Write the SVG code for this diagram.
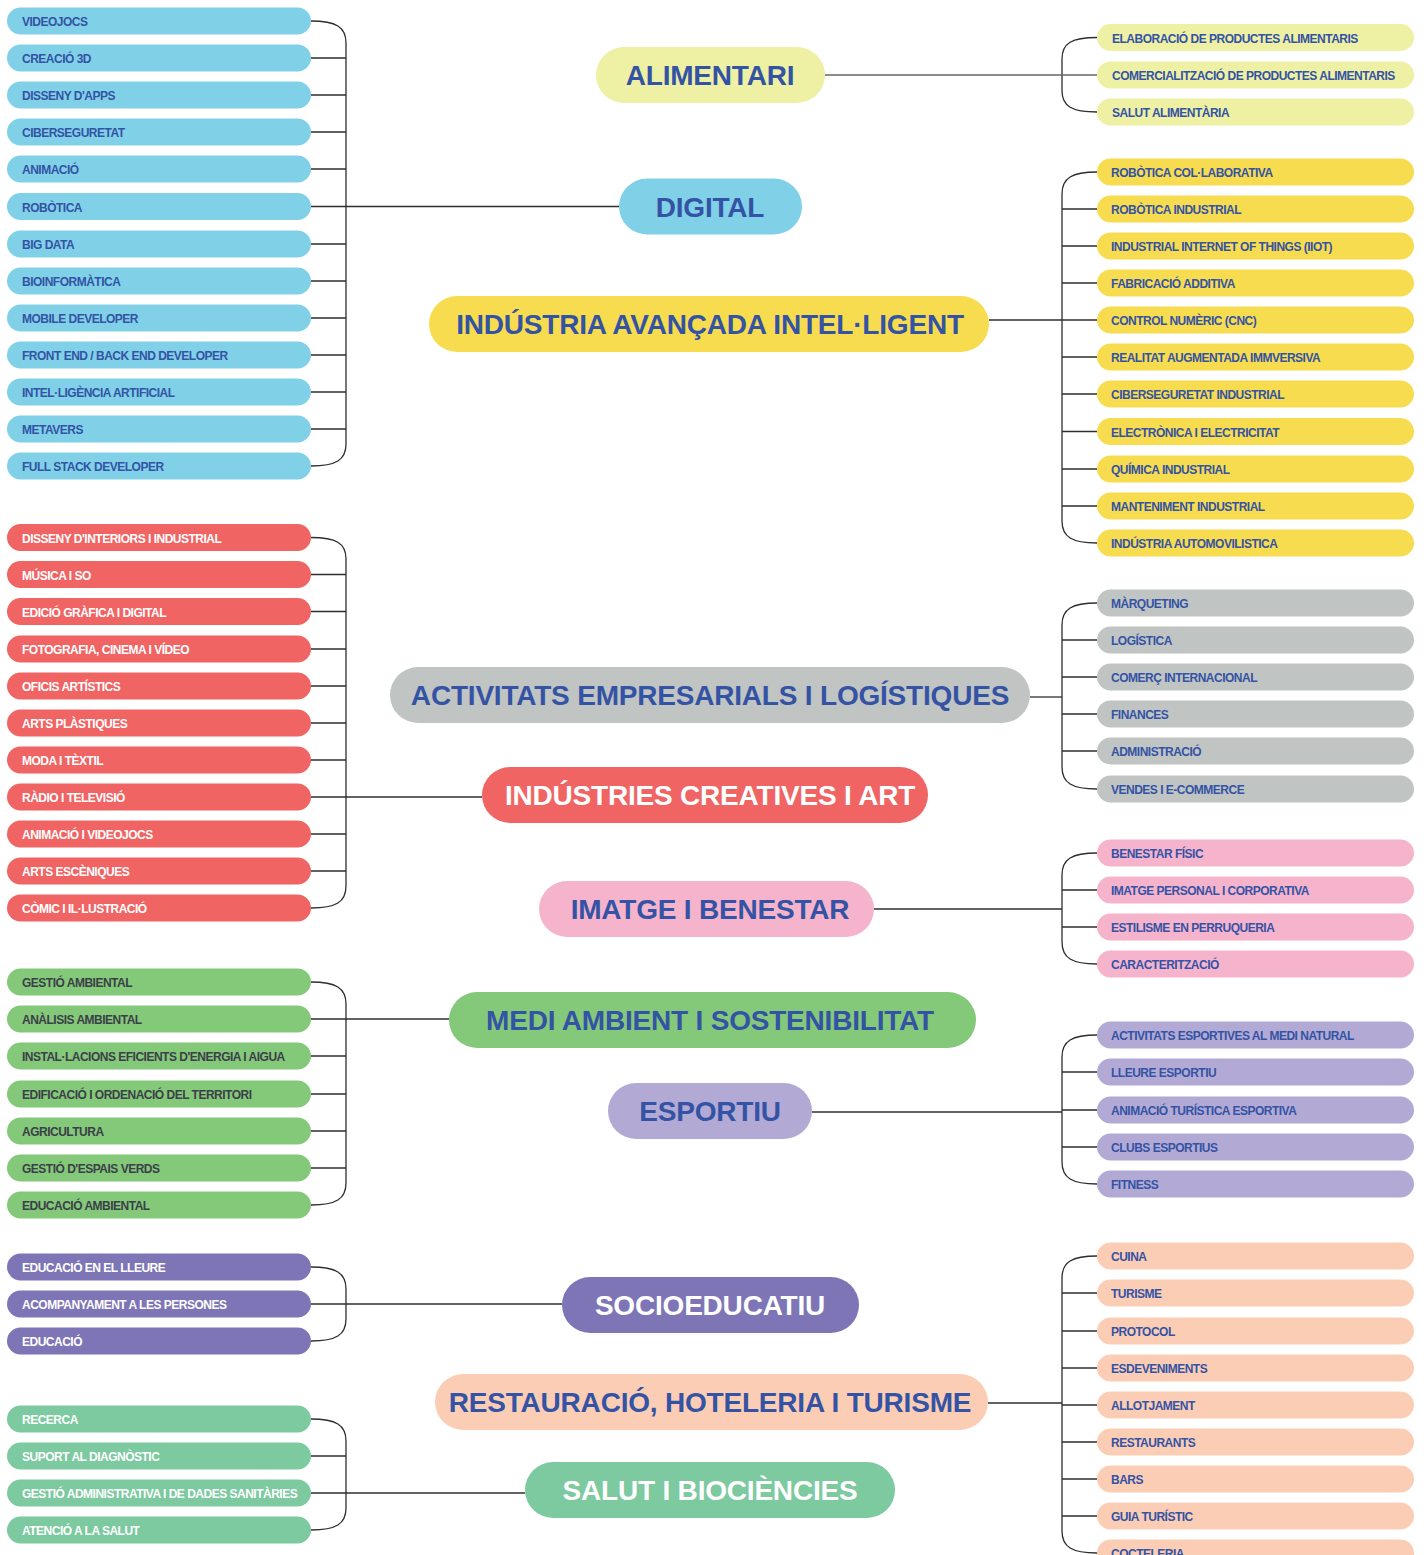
<svg xmlns="http://www.w3.org/2000/svg" width="1426" height="1555" viewBox="0 0 1426 1555">
<style>
text{font-family:"Liberation Sans",Arial,sans-serif;font-weight:700}
.leaf text{font-size:12px;letter-spacing:-0.5px;transform:translateY(0.8px)}
.hub text{font-size:28px;letter-spacing:-0.2px;text-anchor:middle}
.conn path{fill:none;stroke:#2e2e2e;stroke-width:1.3}
.dig rect{fill:#80d1e8}.dig text{fill:#3453a4}
.ali rect{fill:#eef0a4}.ali text{fill:#3453a4}
.ind rect{fill:#f7dc50}.ind text{fill:#3453a4}
.emp rect{fill:#c0c4c3}.emp text{fill:#3453a4}
.cre rect{fill:#f06464}.cre text{fill:#ffffff}
.ima rect{fill:#f5b4cc}.ima text{fill:#3453a4}
.med rect{fill:#84c87a}.med text{fill:#3453a4}
.med.leaf text{fill:#3b3f48}
.esp rect{fill:#b2aad4}.esp text{fill:#3453a4}
.soc rect{fill:#7e75b6}.soc text{fill:#ffffff}
.res rect{fill:#fbcdb5}.res text{fill:#3453a4}
.sal rect{fill:#7dc9a0}.sal text{fill:#ffffff}
</style>
<rect width="1426" height="1555" fill="#ffffff"/>
<g class="conn">
<path d="M311,21 C336,21 346,27 346,43 V444 C346,460 336,466 311,466"/>
<path d="M311,58H346M311,95H346M311,132H346M311,169H346M311,206.5H346M311,244H346M311,281H346M311,318H346M311,355H346M311,392H346M311,429H346"/>
<path d="M346,206.5H619"/>
<path d="M311,537.5 C336,537.5 346,543 346,559 V886 C346,902 336,908 311,908"/>
<path d="M311,574.5H346M311,611.5H346M311,649H346M311,686H346M311,723H346M311,760H346M311,797H346M311,834H346M311,871H346"/>
<path d="M346,797H482"/>
<path d="M311,982 C336,982 346,988 346,1004 V1183 C346,1199 336,1205 311,1205"/>
<path d="M311,1019H346M311,1056H346M311,1094H346M311,1131H346M311,1168H346"/>
<path d="M346,1019H449"/>
<path d="M311,1267 C336,1267 346,1273 346,1289 V1319 C346,1335 336,1341 311,1341"/>
<path d="M311,1304H562"/>
<path d="M311,1419 C336,1419 346,1425 346,1441 V1508 C346,1524 336,1530 311,1530"/>
<path d="M311,1456H346M311,1493H346"/>
<path d="M346,1493H525"/>
<path d="M1097,37.5 C1072,37.5 1062,43 1062,59 V90.5 C1062,106.5 1072,112 1097,112"/>
<path d="M825,75H1097" style="stroke:#666"/>
<path d="M1097,172 C1072,172 1062,178 1062,194 V521 C1062,537 1072,543 1097,543"/>
<path d="M1062,209H1097M1062,246H1097M1062,283H1097M1062,320H1097M1062,357H1097M1062,394H1097M1062,431.5H1097M1062,469H1097M1062,506H1097"/>
<path d="M989,320H1062"/>
<path d="M1097,603 C1072,603 1062,609 1062,625 V767 C1062,783 1072,789 1097,789"/>
<path d="M1062,640H1097M1062,677H1097M1062,714H1097M1062,751H1097"/>
<path d="M1030,697H1062"/>
<path d="M1097,853 C1072,853 1062,859 1062,875 V942 C1062,958 1072,964 1097,964"/>
<path d="M1062,890H1097M1062,927H1097"/>
<path d="M874,909H1062"/>
<path d="M1097,1035 C1072,1035 1062,1041 1062,1057 V1162 C1062,1178 1072,1184 1097,1184"/>
<path d="M1062,1072H1097M1062,1110H1097M1062,1147H1097"/>
<path d="M812,1112H1062"/>
<path d="M1097,1256 C1072,1256 1062,1262 1062,1278 V1531 C1062,1547 1072,1553 1097,1553"/>
<path d="M1062,1293H1097M1062,1331H1097M1062,1368H1097M1062,1405H1097M1062,1442H1097M1062,1479H1097M1062,1516H1097"/>
<path d="M988,1403H1062"/>
</g>

<!-- hubs -->
<g id="hub-alimentari" class="hub ali"><rect x="596" y="47" width="229" height="56" rx="28"/><text x="710" y="85">ALIMENTARI</text></g>
<g id="hub-digital" class="hub dig"><rect x="619" y="178.5" width="183" height="56" rx="28"/><text x="710" y="216.5">DIGITAL</text></g>
<g id="hub-industria" class="hub ind"><rect x="429" y="296" width="560" height="56" rx="28"/><text x="710" y="334">INDÚSTRIA AVANÇADA INTEL·LIGENT</text></g>
<g id="hub-empresarials" class="hub emp"><rect x="390" y="667" width="640" height="56" rx="28"/><text x="710" y="705">ACTIVITATS EMPRESARIALS I LOGÍSTIQUES</text></g>
<g id="hub-creatives" class="hub cre"><rect x="482" y="767" width="446" height="56" rx="28"/><text x="710" y="805">INDÚSTRIES CREATIVES I ART</text></g>
<g id="hub-imatge" class="hub ima"><rect x="539" y="881" width="335" height="56" rx="28"/><text x="710" y="919">IMATGE I BENESTAR</text></g>
<g id="hub-medi" class="hub med"><rect x="449" y="992" width="527" height="56" rx="28"/><text x="710" y="1030">MEDI AMBIENT I SOSTENIBILITAT</text></g>
<g id="hub-esportiu" class="hub esp"><rect x="608" y="1083" width="204" height="56" rx="28"/><text x="710" y="1121">ESPORTIU</text></g>
<g id="hub-socio" class="hub soc"><rect x="562" y="1277" width="297" height="56" rx="28"/><text x="710" y="1315">SOCIOEDUCATIU</text></g>
<g id="hub-restauracio" class="hub res"><rect x="435" y="1374" width="553" height="56" rx="28"/><text x="710" y="1412">RESTAURACIÓ, HOTELERIA I TURISME</text></g>
<g id="hub-salut" class="hub sal"><rect x="525" y="1462" width="370" height="56" rx="28"/><text x="710" y="1500">SALUT I BIOCIÈNCIES</text></g>

<!-- digital leaves -->
<g id="dig-1" class="leaf dig"><rect x="7" y="7.5" width="304" height="27" rx="13.5"/><text x="22" y="25.3">VIDEOJOCS</text></g>
<g id="dig-2" class="leaf dig"><rect x="7" y="44.5" width="304" height="27" rx="13.5"/><text x="22" y="62.3">CREACIÓ 3D</text></g>
<g id="dig-3" class="leaf dig"><rect x="7" y="81.5" width="304" height="27" rx="13.5"/><text x="22" y="99.3">DISSENY D'APPS</text></g>
<g id="dig-4" class="leaf dig"><rect x="7" y="118.5" width="304" height="27" rx="13.5"/><text x="22" y="136.3">CIBERSEGURETAT</text></g>
<g id="dig-5" class="leaf dig"><rect x="7" y="155.5" width="304" height="27" rx="13.5"/><text x="22" y="173.3">ANIMACIÓ</text></g>
<g id="dig-6" class="leaf dig"><rect x="7" y="193" width="304" height="27" rx="13.5"/><text x="22" y="210.8">ROBÒTICA</text></g>
<g id="dig-7" class="leaf dig"><rect x="7" y="230.5" width="304" height="27" rx="13.5"/><text x="22" y="248.3">BIG DATA</text></g>
<g id="dig-8" class="leaf dig"><rect x="7" y="267.5" width="304" height="27" rx="13.5"/><text x="22" y="285.3">BIOINFORMÀTICA</text></g>
<g id="dig-9" class="leaf dig"><rect x="7" y="304.5" width="304" height="27" rx="13.5"/><text x="22" y="322.3">MOBILE DEVELOPER</text></g>
<g id="dig-10" class="leaf dig"><rect x="7" y="341.5" width="304" height="27" rx="13.5"/><text x="22" y="359.3">FRONT END / BACK END DEVELOPER</text></g>
<g id="dig-11" class="leaf dig"><rect x="7" y="378.5" width="304" height="27" rx="13.5"/><text x="22" y="396.3">INTEL·LIGÈNCIA ARTIFICIAL</text></g>
<g id="dig-12" class="leaf dig"><rect x="7" y="415.5" width="304" height="27" rx="13.5"/><text x="22" y="433.3">METAVERS</text></g>
<g id="dig-13" class="leaf dig"><rect x="7" y="452.5" width="304" height="27" rx="13.5"/><text x="22" y="470.3">FULL STACK DEVELOPER</text></g>

<!-- creatives leaves -->
<g id="cre-1" class="leaf cre"><rect x="7" y="524" width="304" height="27" rx="13.5"/><text x="22" y="541.8">DISSENY D'INTERIORS I INDUSTRIAL</text></g>
<g id="cre-2" class="leaf cre"><rect x="7" y="561" width="304" height="27" rx="13.5"/><text x="22" y="578.8">MÚSICA I SO</text></g>
<g id="cre-3" class="leaf cre"><rect x="7" y="598" width="304" height="27" rx="13.5"/><text x="22" y="615.8">EDICIÓ GRÀFICA I DIGITAL</text></g>
<g id="cre-4" class="leaf cre"><rect x="7" y="635.5" width="304" height="27" rx="13.5"/><text x="22" y="653.3">FOTOGRAFIA, CINEMA I VÍDEO</text></g>
<g id="cre-5" class="leaf cre"><rect x="7" y="672.5" width="304" height="27" rx="13.5"/><text x="22" y="690.3">OFICIS ARTÍSTICS</text></g>
<g id="cre-6" class="leaf cre"><rect x="7" y="709.5" width="304" height="27" rx="13.5"/><text x="22" y="727.3">ARTS PLÀSTIQUES</text></g>
<g id="cre-7" class="leaf cre"><rect x="7" y="746.5" width="304" height="27" rx="13.5"/><text x="22" y="764.3">MODA I TÈXTIL</text></g>
<g id="cre-8" class="leaf cre"><rect x="7" y="783.5" width="304" height="27" rx="13.5"/><text x="22" y="801.3">RÀDIO I TELEVISIÓ</text></g>
<g id="cre-9" class="leaf cre"><rect x="7" y="820.5" width="304" height="27" rx="13.5"/><text x="22" y="838.3">ANIMACIÓ I VIDEOJOCS</text></g>
<g id="cre-10" class="leaf cre"><rect x="7" y="857.5" width="304" height="27" rx="13.5"/><text x="22" y="875.3">ARTS ESCÈNIQUES</text></g>
<g id="cre-11" class="leaf cre"><rect x="7" y="894.5" width="304" height="27" rx="13.5"/><text x="22" y="912.3">CÒMIC I IL·LUSTRACIÓ</text></g>

<!-- medi leaves -->
<g id="med-1" class="leaf med"><rect x="7" y="968.5" width="304" height="27" rx="13.5"/><text x="22" y="986.3">GESTIÓ AMBIENTAL</text></g>
<g id="med-2" class="leaf med"><rect x="7" y="1005.5" width="304" height="27" rx="13.5"/><text x="22" y="1023.3">ANÀLISIS AMBIENTAL</text></g>
<g id="med-3" class="leaf med"><rect x="7" y="1042.5" width="304" height="27" rx="13.5"/><text x="22" y="1060.3">INSTAL·LACIONS EFICIENTS D'ENERGIA I AIGUA</text></g>
<g id="med-4" class="leaf med"><rect x="7" y="1080.5" width="304" height="27" rx="13.5"/><text x="22" y="1098.3">EDIFICACIÓ I ORDENACIÓ DEL TERRITORI</text></g>
<g id="med-5" class="leaf med"><rect x="7" y="1117.5" width="304" height="27" rx="13.5"/><text x="22" y="1135.3">AGRICULTURA</text></g>
<g id="med-6" class="leaf med"><rect x="7" y="1154.5" width="304" height="27" rx="13.5"/><text x="22" y="1172.3">GESTIÓ D'ESPAIS VERDS</text></g>
<g id="med-7" class="leaf med"><rect x="7" y="1191.5" width="304" height="27" rx="13.5"/><text x="22" y="1209.3">EDUCACIÓ AMBIENTAL</text></g>

<!-- socio leaves -->
<g id="soc-1" class="leaf soc"><rect x="7" y="1253.5" width="304" height="27" rx="13.5"/><text x="22" y="1271.3">EDUCACIÓ EN EL LLEURE</text></g>
<g id="soc-2" class="leaf soc"><rect x="7" y="1290.5" width="304" height="27" rx="13.5"/><text x="22" y="1308.3">ACOMPANYAMENT A LES PERSONES</text></g>
<g id="soc-3" class="leaf soc"><rect x="7" y="1327.5" width="304" height="27" rx="13.5"/><text x="22" y="1345.3">EDUCACIÓ</text></g>

<!-- salut leaves -->
<g id="sal-1" class="leaf sal"><rect x="7" y="1405.5" width="304" height="27" rx="13.5"/><text x="22" y="1423.3">RECERCA</text></g>
<g id="sal-2" class="leaf sal"><rect x="7" y="1442.5" width="304" height="27" rx="13.5"/><text x="22" y="1460.3">SUPORT AL DIAGNÒSTIC</text></g>
<g id="sal-3" class="leaf sal"><rect x="7" y="1479.5" width="304" height="27" rx="13.5"/><text x="22" y="1497.3">GESTIÓ ADMINISTRATIVA I DE DADES SANITÀRIES</text></g>
<g id="sal-4" class="leaf sal"><rect x="7" y="1516.5" width="304" height="27" rx="13.5"/><text x="22" y="1534.3">ATENCIÓ A LA SALUT</text></g>

<!-- alimentari leaves -->
<g id="ali-1" class="leaf ali"><rect x="1097" y="24" width="317" height="27" rx="13.5"/><text x="1112" y="41.8">ELABORACIÓ DE PRODUCTES ALIMENTARIS</text></g>
<g id="ali-2" class="leaf ali"><rect x="1097" y="61.5" width="317" height="27" rx="13.5"/><text x="1112" y="79.3">COMERCIALITZACIÓ DE PRODUCTES ALIMENTARIS</text></g>
<g id="ali-3" class="leaf ali"><rect x="1097" y="98.5" width="317" height="27" rx="13.5"/><text x="1112" y="116.3">SALUT ALIMENTÀRIA</text></g>

<!-- industria leaves -->
<g id="ind-1" class="leaf ind"><rect x="1097" y="158.5" width="317" height="27" rx="13.5"/><text x="1111" y="176.3">ROBÒTICA COL·LABORATIVA</text></g>
<g id="ind-2" class="leaf ind"><rect x="1097" y="195.5" width="317" height="27" rx="13.5"/><text x="1111" y="213.3">ROBÒTICA INDUSTRIAL</text></g>
<g id="ind-3" class="leaf ind"><rect x="1097" y="232.5" width="317" height="27" rx="13.5"/><text x="1111" y="250.3">INDUSTRIAL INTERNET OF THINGS (IIOT)</text></g>
<g id="ind-4" class="leaf ind"><rect x="1097" y="269.5" width="317" height="27" rx="13.5"/><text x="1111" y="287.3">FABRICACIÓ ADDITIVA</text></g>
<g id="ind-5" class="leaf ind"><rect x="1097" y="306.5" width="317" height="27" rx="13.5"/><text x="1111" y="324.3">CONTROL NUMÈRIC (CNC)</text></g>
<g id="ind-6" class="leaf ind"><rect x="1097" y="343.5" width="317" height="27" rx="13.5"/><text x="1111" y="361.3">REALITAT AUGMENTADA IMMVERSIVA</text></g>
<g id="ind-7" class="leaf ind"><rect x="1097" y="380.5" width="317" height="27" rx="13.5"/><text x="1111" y="398.3">CIBERSEGURETAT INDUSTRIAL</text></g>
<g id="ind-8" class="leaf ind"><rect x="1097" y="418" width="317" height="27" rx="13.5"/><text x="1111" y="435.8">ELECTRÒNICA I ELECTRICITAT</text></g>
<g id="ind-9" class="leaf ind"><rect x="1097" y="455.5" width="317" height="27" rx="13.5"/><text x="1111" y="473.3">QUÍMICA INDUSTRIAL</text></g>
<g id="ind-10" class="leaf ind"><rect x="1097" y="492.5" width="317" height="27" rx="13.5"/><text x="1111" y="510.3">MANTENIMENT INDUSTRIAL</text></g>
<g id="ind-11" class="leaf ind"><rect x="1097" y="529.5" width="317" height="27" rx="13.5"/><text x="1111" y="547.3">INDÚSTRIA AUTOMOVILISTICA</text></g>

<!-- empresarials leaves -->
<g id="emp-1" class="leaf emp"><rect x="1097" y="589.5" width="317" height="27" rx="13.5"/><text x="1111" y="607.3">MÀRQUETING</text></g>
<g id="emp-2" class="leaf emp"><rect x="1097" y="626.5" width="317" height="27" rx="13.5"/><text x="1111" y="644.3">LOGÍSTICA</text></g>
<g id="emp-3" class="leaf emp"><rect x="1097" y="663.5" width="317" height="27" rx="13.5"/><text x="1111" y="681.3">COMERÇ INTERNACIONAL</text></g>
<g id="emp-4" class="leaf emp"><rect x="1097" y="700.5" width="317" height="27" rx="13.5"/><text x="1111" y="718.3">FINANCES</text></g>
<g id="emp-5" class="leaf emp"><rect x="1097" y="737.5" width="317" height="27" rx="13.5"/><text x="1111" y="755.3">ADMINISTRACIÓ</text></g>
<g id="emp-6" class="leaf emp"><rect x="1097" y="775.5" width="317" height="27" rx="13.5"/><text x="1111" y="793.3">VENDES I E-COMMERCE</text></g>

<!-- imatge leaves -->
<g id="ima-1" class="leaf ima"><rect x="1097" y="839.5" width="317" height="27" rx="13.5"/><text x="1111" y="857.3">BENESTAR FÍSIC</text></g>
<g id="ima-2" class="leaf ima"><rect x="1097" y="876.5" width="317" height="27" rx="13.5"/><text x="1111" y="894.3">IMATGE PERSONAL I CORPORATIVA</text></g>
<g id="ima-3" class="leaf ima"><rect x="1097" y="913.5" width="317" height="27" rx="13.5"/><text x="1111" y="931.3">ESTILISME EN PERRUQUERIA</text></g>
<g id="ima-4" class="leaf ima"><rect x="1097" y="950.5" width="317" height="27" rx="13.5"/><text x="1111" y="968.3">CARACTERITZACIÓ</text></g>

<!-- esportiu leaves -->
<g id="esp-1" class="leaf esp"><rect x="1097" y="1021.5" width="317" height="27" rx="13.5"/><text x="1111" y="1039.3">ACTIVITATS ESPORTIVES AL MEDI NATURAL</text></g>
<g id="esp-2" class="leaf esp"><rect x="1097" y="1058.5" width="317" height="27" rx="13.5"/><text x="1111" y="1076.3">LLEURE ESPORTIU</text></g>
<g id="esp-3" class="leaf esp"><rect x="1097" y="1096.5" width="317" height="27" rx="13.5"/><text x="1111" y="1114.3">ANIMACIÓ TURÍSTICA ESPORTIVA</text></g>
<g id="esp-4" class="leaf esp"><rect x="1097" y="1133.5" width="317" height="27" rx="13.5"/><text x="1111" y="1151.3">CLUBS ESPORTIUS</text></g>
<g id="esp-5" class="leaf esp"><rect x="1097" y="1170.5" width="317" height="27" rx="13.5"/><text x="1111" y="1188.3">FITNESS</text></g>

<!-- restauracio leaves -->
<g id="res-1" class="leaf res"><rect x="1097" y="1242.5" width="317" height="27" rx="13.5"/><text x="1111" y="1260.3">CUINA</text></g>
<g id="res-2" class="leaf res"><rect x="1097" y="1279.5" width="317" height="27" rx="13.5"/><text x="1111" y="1297.3">TURISME</text></g>
<g id="res-3" class="leaf res"><rect x="1097" y="1317.5" width="317" height="27" rx="13.5"/><text x="1111" y="1335.3">PROTOCOL</text></g>
<g id="res-4" class="leaf res"><rect x="1097" y="1354.5" width="317" height="27" rx="13.5"/><text x="1111" y="1372.3">ESDEVENIMENTS</text></g>
<g id="res-5" class="leaf res"><rect x="1097" y="1391.5" width="317" height="27" rx="13.5"/><text x="1111" y="1409.3">ALLOTJAMENT</text></g>
<g id="res-6" class="leaf res"><rect x="1097" y="1428.5" width="317" height="27" rx="13.5"/><text x="1111" y="1446.3">RESTAURANTS</text></g>
<g id="res-7" class="leaf res"><rect x="1097" y="1465.5" width="317" height="27" rx="13.5"/><text x="1111" y="1483.3">BARS</text></g>
<g id="res-8" class="leaf res"><rect x="1097" y="1502.5" width="317" height="27" rx="13.5"/><text x="1111" y="1520.3">GUIA TURÍSTIC</text></g>
<g id="res-9" class="leaf res"><rect x="1097" y="1539.5" width="317" height="27" rx="13.5"/><text x="1111" y="1557.3">COCTELERIA</text></g>
</svg>
